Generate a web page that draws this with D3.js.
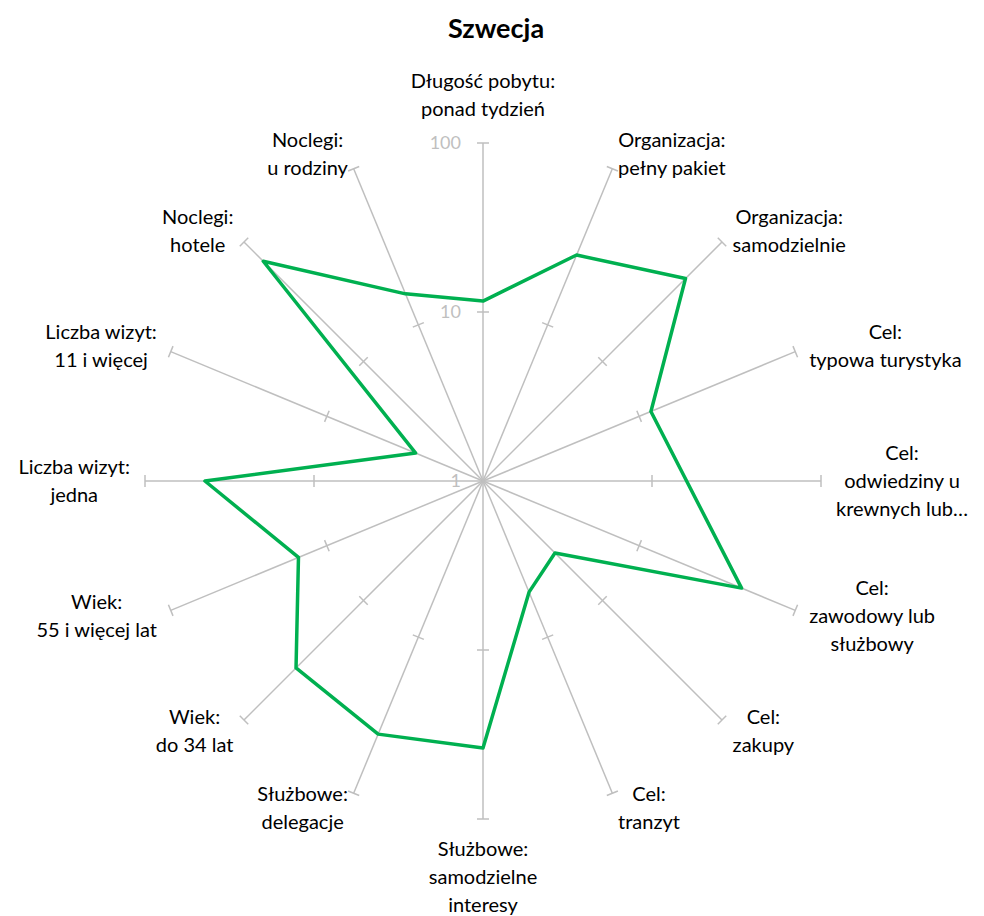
<!DOCTYPE html>
<meta charset="utf-8">
<script src="https://d3js.org/d3.v7.min.js"></script>
<style>
  body { margin: 0; background: #fff; }
  text { font-family: Lato, "Open Sans", sans-serif; }
</style>
<div id="chart"></div>
<script>
// Axis labels (lines split by "|")
const categories = [
  "Długość pobytu:|ponad tydzień",
  "Organizacja:|pełny pakiet",
  "Organizacja:|samodzielnie",
  "Cel:|typowa turystyka",
  "Cel:|odwiedziny u|krewnych lub…",
  "Cel:|zawodowy lub|służbowy",
  "Cel:|zakupy",
  "Cel:|tranzyt",
  "Służbowe:|samodzielne|interesy",
  "Służbowe:|delegacje",
  "Wiek:|do 34 lat",
  "Wiek:|55 i więcej lat",
  "Liczba wizyt:|jedna",
  "Liczba wizyt:|11 i więcej",
  "Noclegi:|hotele",
  "Noclegi:|u rodziny"
];
// Szwecja values (null = no data)
const values = [11.6, 28, 49.5, 11.9, null, 45.3, 4.0, 5.15, 38, 41.8, 36.7, 15.2, 44.2, 2.7, 69, 15.8];
const tickValues = [1, 10, 100];
const title = "Szwecja";

const width = 984, height = 916;
const cx = 483, cy = 481, R = 338;

const svg = d3.select("#chart").append("svg")
  .attr("width", width)
  .attr("height", height);

const r = d3.scaleLog().domain([1, 100]).range([0, R]);
const angle = d3.scalePoint().domain(d3.range(categories.length))
  .range([0, 2 * Math.PI * (categories.length - 1) / categories.length]);

const g = svg.append("g").attr("transform", `translate(${cx},${cy})`);

// title
svg.append("text")
  .attr("x", 496).attr("y", 38)
  .attr("text-anchor", "middle")
  .style("font-size", "27px")
  .style("font-weight", "bold")
  .attr("fill", "#000")
  .text(title);

// spokes + tick marks
categories.forEach((c, i) => {
  const a = angle(i), s = Math.sin(a), co = -Math.cos(a);
  g.append("line")
    .attr("x1", 0).attr("y1", 0)
    .attr("x2", s * R).attr("y2", co * R)
    .attr("stroke", "#bfbfbf").attr("stroke-width", 1.5);
  tickValues.slice(1).forEach(t => {
    const rr = r(t);
    g.append("line")
      .attr("x1", s * rr - co * 6).attr("y1", co * rr + s * 6)
      .attr("x2", s * rr + co * 6).attr("y2", co * rr - s * 6)
      .attr("stroke", "#bfbfbf").attr("stroke-width", 1.5);
  });
});

// tick labels
g.selectAll(".tl").data(tickValues).join("text")
  .attr("class", "tl")
  .attr("x", -22)
  .attr("y", d => -r(d))
  .attr("dy", "0.35em")
  .attr("text-anchor", "end")
  .attr("fill", "#bfbfbf")
  .style("font-size", "18px")
  .text(d => d);

// axis labels
const lineH = 28;
categories.forEach((c, i) => {
  const lines = c.split("|");
  const a = angle(i), s = Math.sin(a), co = -Math.cos(a);
  const ex = s * R, ey = co * R;
  const t = g.append("text")
    .attr("text-anchor", "middle")
    .attr("fill", "#000")
    .style("font-size", "20px");
  lines.forEach(l => t.append("tspan").text(l));
  const w = d3.max(t.selectAll("tspan").nodes(), n => n.getComputedTextLength());
  let bx, by; // block centre
  const n = lines.length, h = n * lineH;
  if (Math.abs(s) < 0.01) {
    bx = ex;
    by = ey + co * ((co > 0 ? 16 : 20) + h / 2);
  } else {
    bx = ex + s * 15 + Math.sign(s) * w / 2;
    by = ey + co * 16;
  }
  t.selectAll("tspan")
    .attr("x", bx)
    .attr("y", (d, j) => by - (n - 1) * lineH / 2 + j * lineH + 7);
});

// data polygon (skip missing values)
const pts = values.map((v, i) => [angle(i), v]).filter(d => d[1] != null);
const line = d3.lineRadial()
  .angle(d => d[0])
  .radius(d => r(d[1]))
  .curve(d3.curveLinearClosed);

g.append("path")
  .datum(pts)
  .attr("d", line)
  .attr("fill", "none")
  .attr("stroke", "#00b050")
  .attr("stroke-width", 3.5)
  .attr("stroke-linejoin", "round");
</script>
